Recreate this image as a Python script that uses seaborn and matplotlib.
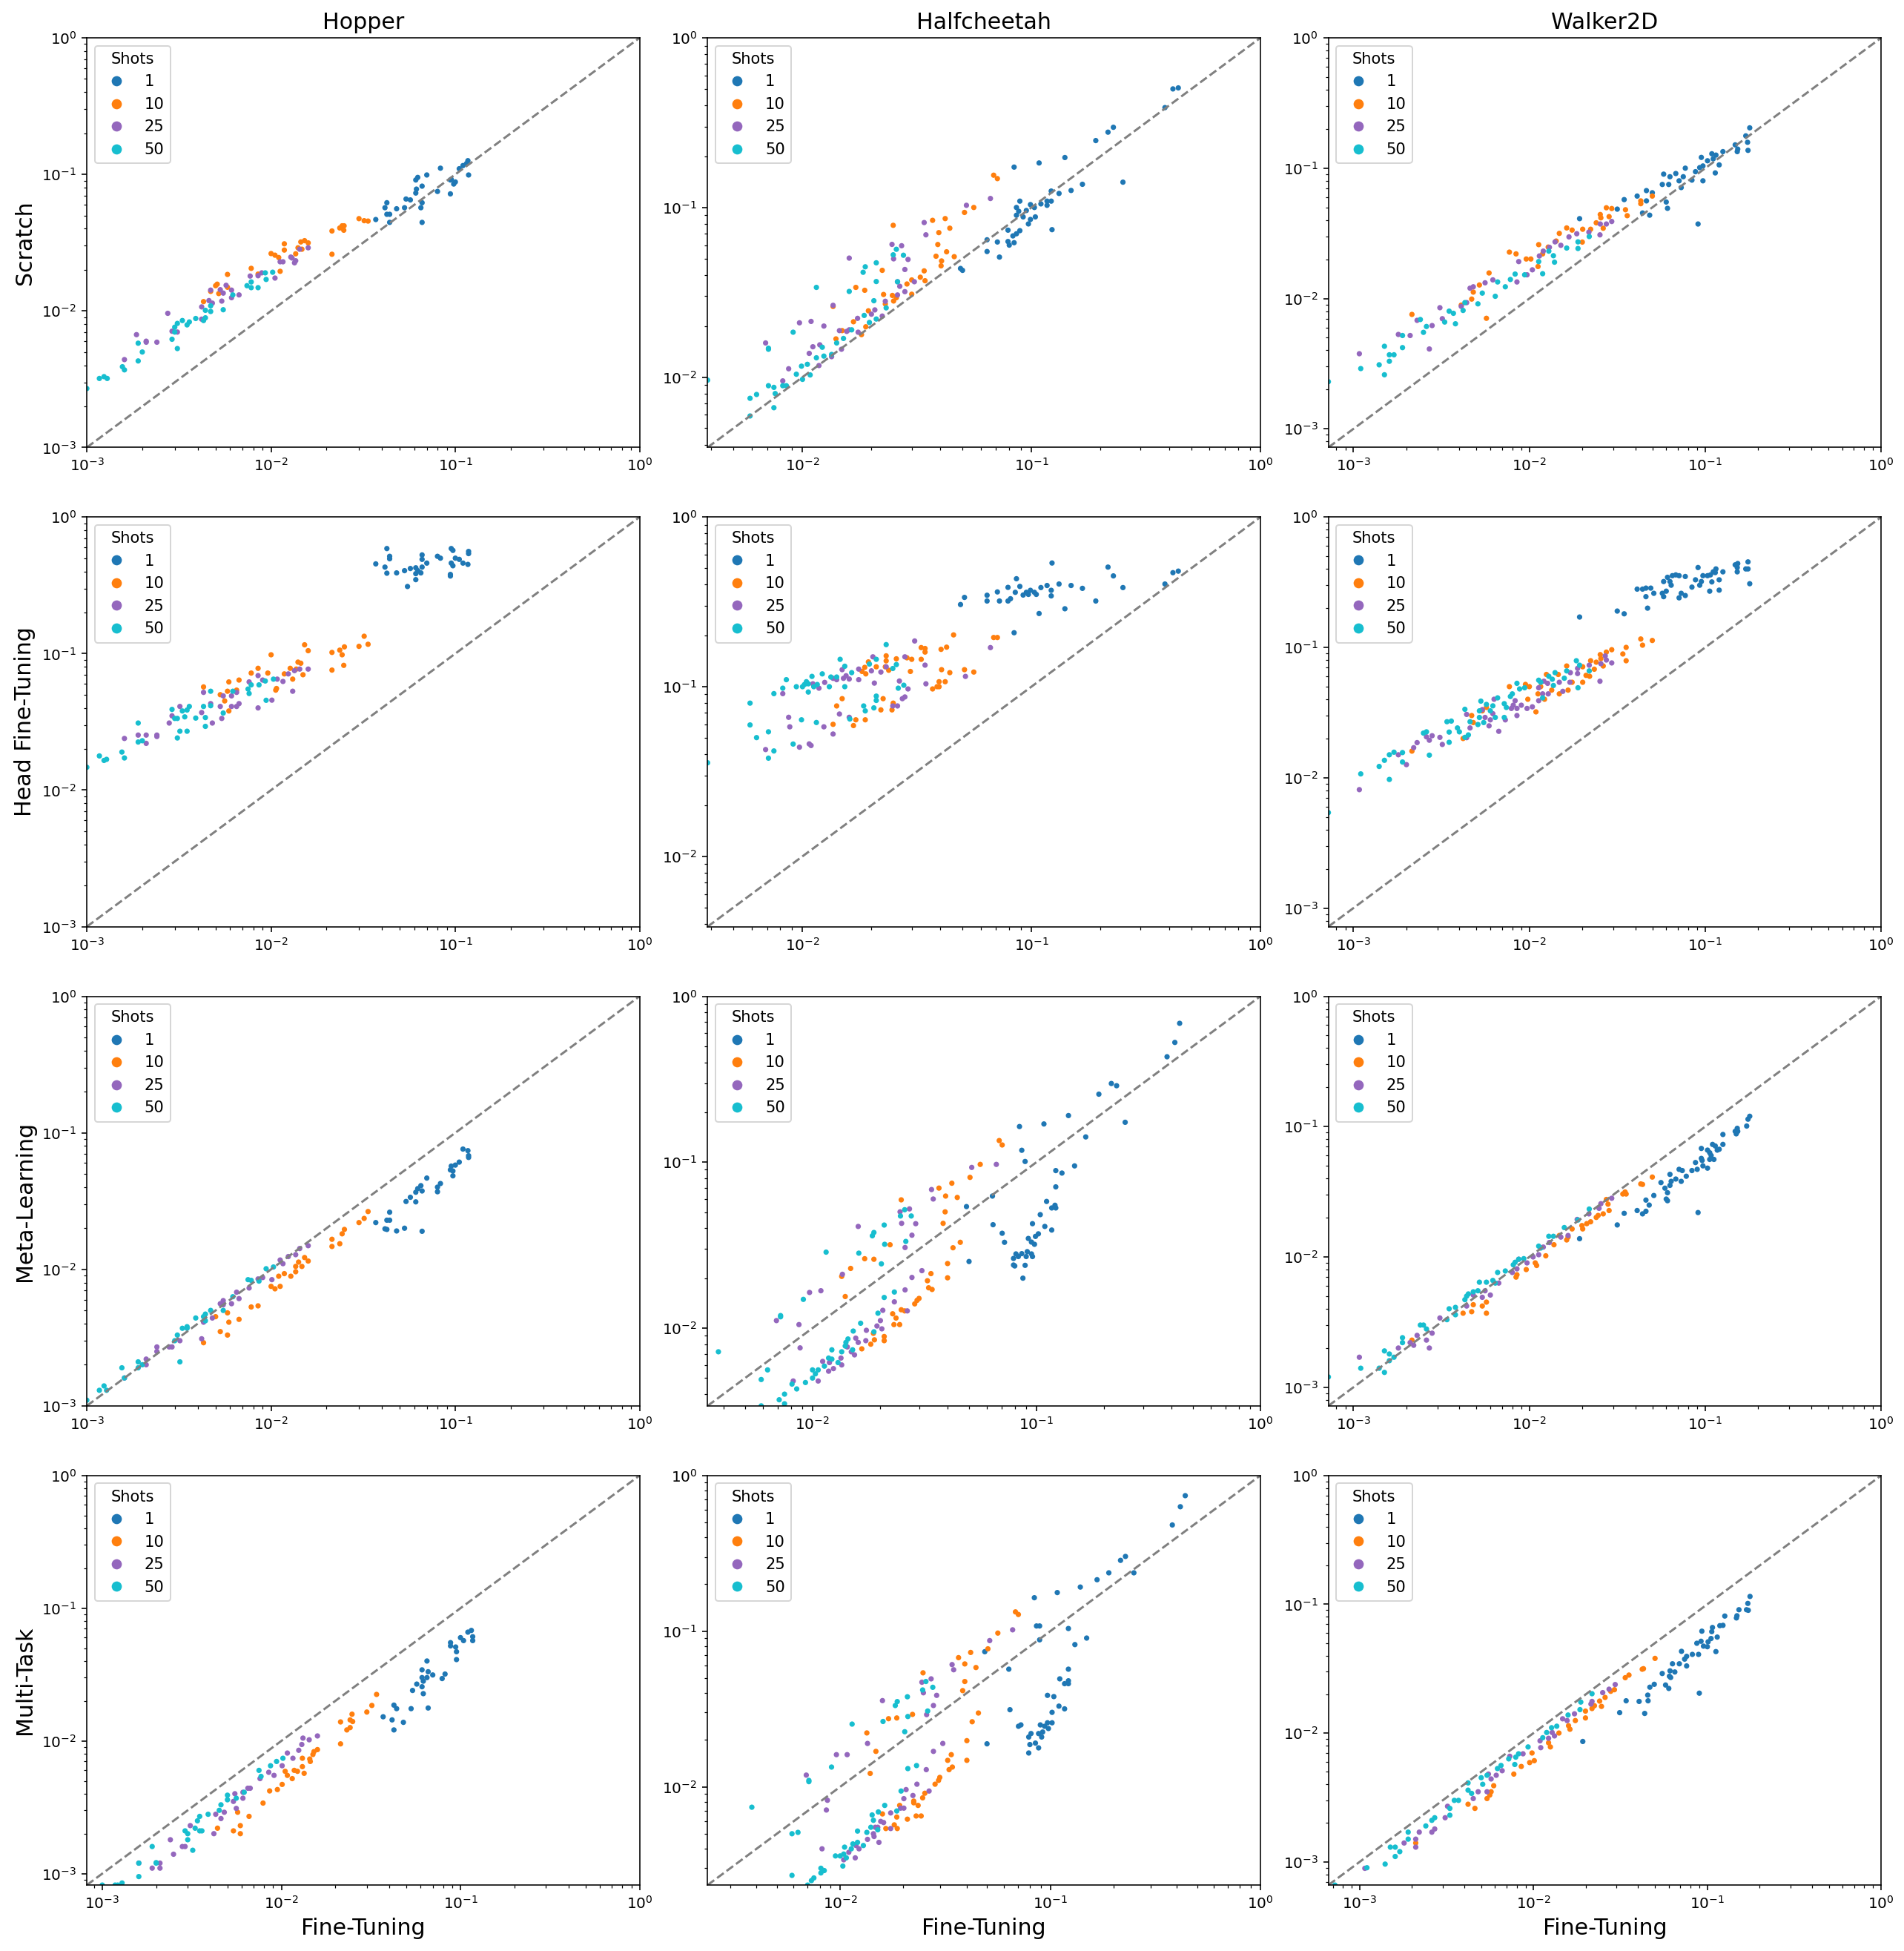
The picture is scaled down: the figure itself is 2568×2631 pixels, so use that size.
import matplotlib
matplotlib.use("Agg")
import matplotlib.pyplot as plt
import pandas as pd
import seaborn as sns

# values: (fine-tuning loss, other-method loss) per shot count
hopper_scratch = {
    "1": [(0.117, 0.126), (0.115, 0.12), (0.11, 0.116), (0.105, 0.11), (0.118, 0.099), (0.083, 0.111),
          (0.070, 0.099), (0.0625, 0.095), (0.061, 0.091), (0.095, 0.092), (0.1, 0.088), (0.098, 0.085),
          (0.094, 0.091), (0.066, 0.082), (0.0615, 0.078), (0.08, 0.075), (0.094, 0.072), (0.061, 0.073),
          (0.054, 0.066), (0.057, 0.065), (0.066, 0.062), (0.0425, 0.062), (0.0415, 0.057), (0.048, 0.056),
          (0.053, 0.057), (0.065, 0.057), (0.0425, 0.051), (0.044, 0.051), (0.037, 0.0467), (0.044, 0.0445),
          (0.066, 0.0445)],
    "10": [(0.030, 0.0474), (0.032, 0.0458), (0.0336, 0.0455), (0.0249, 0.042), (0.0243, 0.042), (0.0236, 0.0405),
           (0.0248, 0.039), (0.0214, 0.0385), (0.0214, 0.026), (0.0152, 0.0327), (0.0145, 0.032), (0.0159, 0.0315),
           (0.0118, 0.031), (0.0118, 0.0279), (0.014, 0.029), (0.0147, 0.0283), (0.0136, 0.0262), (0.0100, 0.0263),
           (0.0105, 0.0256), (0.0110, 0.0246), (0.0112, 0.0195), (0.0078, 0.0205), (0.0085, 0.0186), (0.0058, 0.0185),
           (0.0051, 0.0157), (0.005, 0.0153), (0.0058, 0.0149), (0.0047, 0.0139), (0.0052, 0.0134), (0.0043, 0.0117)],
    "25": [(0.0159, 0.029), (0.0143, 0.0283), (0.0128, 0.0248), (0.013, 0.0244), (0.0112, 0.0229), (0.0116, 0.0229),
           (0.0134, 0.0225), (0.0136, 0.0233), (0.0089, 0.019), (0.0085, 0.0181), (0.0077, 0.018), (0.0105, 0.0174),
           (0.0057, 0.0154), (0.0047, 0.0142), (0.0053, 0.0143), (0.0061, 0.0142), (0.0055, 0.0135), (0.0067, 0.0131),
           (0.0061, 0.0125), (0.0048, 0.0114), (0.0054, 0.0118), (0.0046, 0.0119), (0.0042, 0.0107), (0.00275, 0.0096),
           (0.0042, 0.0087), (0.0029, 0.0071), (0.0031, 0.0070), (0.00186, 0.0067), (0.0021, 0.006), (0.0021, 0.0059),
           (0.0024, 0.0059), (0.0016, 0.0044)],
    "50": [(0.0102, 0.0192), (0.0093, 0.019), (0.0094, 0.017), (0.0078, 0.0163), (0.0074, 0.0153), (0.0078, 0.0148),
           (0.0085, 0.0148), (0.0062, 0.0131), (0.0047, 0.0109), (0.0044, 0.0101), (0.0047, 0.0099), (0.0055, 0.0102),
           (0.0039, 0.0088), (0.0044, 0.0089), (0.0043, 0.0085), (0.0036, 0.0083), (0.0033, 0.0085), (0.0035, 0.0079),
           (0.0031, 0.0081), (0.0030, 0.0076), (0.0030, 0.0070), (0.0029, 0.0062), (0.0031, 0.0053), (0.0019, 0.0058),
           (0.0020, 0.005), (0.0019, 0.0043), (0.00156, 0.0039), (0.0016, 0.0037), (0.00117, 0.0032), (0.00124, 0.0033),
           (0.00129, 0.0032), (0.001, 0.0027)],
}

halfcheetah_scratch = {
    "1": [(0.438, 0.507), (0.415, 0.50), (0.383, 0.388), (0.228, 0.297), (0.216, 0.278), (0.191, 0.248), (0.140, 0.197),
          (0.108, 0.183), (0.084, 0.173), (0.251, 0.141), (0.167, 0.137), (0.149, 0.126), (0.132, 0.121), (0.122, 0.125),
          (0.117, 0.109), (0.122, 0.109), (0.11, 0.105), (0.117, 0.103), (0.103, 0.1), (0.099, 0.104), (0.089, 0.109),
          (0.086, 0.1), (0.095, 0.096), (0.088, 0.095), (0.092, 0.088), (0.104, 0.088), (0.099, 0.085), (0.097, 0.080),
          (0.086, 0.090), (0.123, 0.074), (0.079, 0.0735), (0.089, 0.073), (0.086, 0.070), (0.083, 0.068), (0.064, 0.0645),
          (0.071, 0.0626), (0.079, 0.063), (0.080, 0.060), (0.084, 0.062), (0.064, 0.055), (0.0725, 0.051), (0.049, 0.0437),
          (0.050, 0.0426)],
    "10": [(0.0684, 0.155), (0.071, 0.148), (0.056, 0.1), (0.051, 0.0935), (0.042, 0.086), (0.037, 0.084), (0.044, 0.0755),
           (0.0249, 0.0785), (0.0394, 0.0711), (0.039, 0.0605), (0.0426, 0.0548), (0.0383, 0.0516), (0.046, 0.0513),
           (0.0405, 0.0484), (0.0403, 0.0453), (0.0223, 0.0426), (0.034, 0.0423), (0.0327, 0.0388), (0.030, 0.0374),
           (0.0343, 0.037), (0.0286, 0.0354), (0.030, 0.0308), (0.0171, 0.0338), (0.0187, 0.0325), (0.0226, 0.0307),
           (0.0247, 0.0303), (0.0257, 0.0294), (0.025, 0.0281), (0.0136, 0.0261), (0.023, 0.027), (0.0167, 0.0212),
           (0.0194, 0.0246), (0.0189, 0.0198), (0.014, 0.0168), (0.0149, 0.0188), (0.0181, 0.0178)],
    "25": [(0.0662, 0.113), (0.052, 0.103), (0.034, 0.0815), (0.0346, 0.069), (0.0246, 0.0606), (0.0271, 0.0595),
           (0.025, 0.0498), (0.0289, 0.0494), (0.016, 0.0503), (0.028, 0.0431), (0.026, 0.0365), (0.0266, 0.0343),
           (0.0308, 0.0365), (0.028, 0.0319), (0.026, 0.0305), (0.023, 0.028), (0.0207, 0.0249), (0.02, 0.0235),
           (0.0174, 0.0222), (0.0223, 0.0229), (0.0136, 0.0265), (0.0124, 0.02), (0.0109, 0.0213), (0.0097, 0.0209),
           (0.016, 0.019), (0.0145, 0.0188), (0.0156, 0.0186), (0.0175, 0.0184), (0.0069, 0.0159), (0.0119, 0.0155),
           (0.0111, 0.0151), (0.0148, 0.0146), (0.0134, 0.0132), (0.0107, 0.0138), (0.0118, 0.0117), (0.0087, 0.0112),
           (0.0082, 0.0095)],
    "50": [(0.0257, 0.0567), (0.0249, 0.0526), (0.0276, 0.0523), (0.021, 0.0472), (0.0188, 0.0447), (0.0184, 0.0415),
           (0.021, 0.0366), (0.026, 0.0365), (0.0115, 0.0338), (0.016, 0.032), (0.0205, 0.0282), (0.0232, 0.0256),
           (0.0186, 0.0231), (0.0196, 0.021), (0.021, 0.022), (0.0164, 0.019), (0.0151, 0.0169), (0.0141, 0.0159),
           (0.0122, 0.015), (0.0091, 0.0184), (0.0071, 0.0146), (0.0071, 0.0148), (0.0134, 0.0136), (0.0115, 0.013),
           (0.0124, 0.0133), (0.0105, 0.0119), (0.0099, 0.0116), (0.0108, 0.0103), (0.0094, 0.0104), (0.0100, 0.0097),
           (0.00385, 0.0096), (0.0071, 0.0089), (0.0075, 0.0087), (0.0082, 0.0089), (0.0085, 0.0089), (0.0076, 0.0080),
           (0.0063, 0.0079), (0.0059, 0.0075), (0.0075, 0.0066), (0.0059, 0.0059)],
}

walker_scratch = {
    "1": [(0.179, 0.204), (0.17, 0.177), (0.174, 0.158), (0.175, 0.137), (0.148, 0.151), (0.153, 0.14), (0.152, 0.134),
          (0.126, 0.134), (0.115, 0.126), (0.109, 0.129), (0.095, 0.121), (0.111, 0.118), (0.103, 0.114), (0.12, 0.106),
          (0.114, 0.092), (0.097, 0.104), (0.093, 0.101), (0.088, 0.094), (0.097, 0.08), (0.077, 0.1), (0.068, 0.091),
          (0.058, 0.09), (0.063, 0.086), (0.075, 0.086), (0.071, 0.080), (0.084, 0.081), (0.073, 0.071), (0.062, 0.075),
          (0.057, 0.075), (0.0463, 0.0673), (0.041, 0.0611), (0.050, 0.0648), (0.0463, 0.0561), (0.060, 0.055),
          (0.061, 0.0492), (0.0346, 0.0574), (0.044, 0.0453), (0.0483, 0.0436), (0.0316, 0.0485), (0.0193, 0.041),
          (0.091, 0.0373)],
    "10": [(0.050, 0.0611), (0.043, 0.0561), (0.043, 0.0534), (0.0352, 0.048), (0.036, 0.0432), (0.0294, 0.049),
           (0.0274, 0.0497), (0.0284, 0.0425), (0.0253, 0.0441), (0.0255, 0.0416), (0.024, 0.0381), (0.0201, 0.034),
           (0.0223, 0.034), (0.0263, 0.0346), (0.0163, 0.0348), (0.0148, 0.0316), (0.0175, 0.0335), (0.02, 0.0271),
           (0.0142, 0.0276), (0.0113, 0.0259), (0.0128, 0.0248), (0.0119, 0.022), (0.0102, 0.0201), (0.0096, 0.0201),
           (0.0112, 0.0176), (0.0077, 0.0227), (0.0084, 0.022), (0.0059, 0.0157), (0.0052, 0.0127), (0.0047, 0.0099),
           (0.0048, 0.0112), (0.0041, 0.0089), (0.00215, 0.00755), (0.0057, 0.00705)],
    "25": [(0.0294, 0.039), (0.0274, 0.0373), (0.0253, 0.0373), (0.0252, 0.0308), (0.0218, 0.0323), (0.0186, 0.0314),
           (0.0168, 0.0297), (0.0151, 0.0256), (0.014, 0.0272), (0.013, 0.0247), (0.012, 0.0231), (0.0114, 0.0212),
           (0.0104, 0.0166), (0.0097, 0.0152), (0.0087, 0.0192), (0.0085, 0.0134), (0.0062, 0.0139), (0.0056, 0.0132),
           (0.0048, 0.0123), (0.0046, 0.012), (0.0044, 0.0093), (0.0041, 0.0087), (0.0031, 0.0085), (0.0032, 0.007),
           (0.0028, 0.0062), (0.0023, 0.0068), (0.0018, 0.0053), (0.0021, 0.0052), (0.0027, 0.0041), (0.00108, 0.00377)],
    "50": [(0.0189, 0.0272), (0.0189, 0.0242), (0.0219, 0.0299), (0.0163, 0.0244), (0.0137, 0.0213), (0.0129, 0.0231),
           (0.0119, 0.0155), (0.0139, 0.019), (0.0113, 0.0192), (0.0094, 0.0152), (0.0083, 0.0154), (0.0078, 0.014),
           (0.0073, 0.0123), (0.0066, 0.0134), (0.0064, 0.0104), (0.0051, 0.0091), (0.0054, 0.011), (0.0043, 0.0093),
           (0.0042, 0.0081), (0.0035, 0.008), (0.0037, 0.0077), (0.0033, 0.0066), (0.0038, 0.0064), (0.0024, 0.0069),
           (0.0026, 0.0061), (0.0025, 0.0055), (0.0019, 0.0052), (0.0019, 0.0042), (0.0015, 0.0043), (0.0016, 0.0037),
           (0.0016, 0.0033), (0.0017, 0.0037), (0.0014, 0.0031), (0.0015, 0.0026), (0.0011, 0.0029), (0.00072, 0.0023)],
}

hopper_head = {
    "1": [(0.0425, 0.588), (0.044, 0.516), (0.044, 0.495), (0.037, 0.454), (0.0415, 0.43), (0.0425, 0.388), (0.048, 0.39),
          (0.053, 0.405), (0.055, 0.31), (0.057, 0.42), (0.061, 0.425), (0.061, 0.385), (0.061, 0.348), (0.0625, 0.405),
          (0.065, 0.39), (0.066, 0.528), (0.066, 0.49), (0.066, 0.43), (0.07, 0.46), (0.08, 0.516), (0.083, 0.5),
          (0.094, 0.38), (0.094, 0.37), (0.095, 0.588), (0.097, 0.57), (0.095, 0.46), (0.097, 0.44), (0.1, 0.5),
          (0.105, 0.49), (0.11, 0.46), (0.117, 0.45), (0.118, 0.56), (0.118, 0.54)],
    "10": [(0.032, 0.134), (0.0336, 0.117), (0.03, 0.113), (0.025, 0.112), (0.0236, 0.106), (0.0243, 0.098),
           (0.0214, 0.102), (0.0214, 0.0757), (0.0248, 0.082), (0.0152, 0.116), (0.0159, 0.105), (0.0100, 0.098),
           (0.0145, 0.085), (0.014, 0.0866), (0.0137, 0.077), (0.0149, 0.070), (0.0131, 0.065), (0.0118, 0.071),
           (0.0127, 0.078), (0.0096, 0.072), (0.0085, 0.078), (0.0078, 0.072), (0.0067, 0.064), (0.0059, 0.062),
           (0.0058, 0.053), (0.0065, 0.054), (0.0107, 0.0555), (0.0106, 0.054), (0.0043, 0.057), (0.0053, 0.050),
           (0.0056, 0.045), (0.0059, 0.038)],
    "25": [(0.0159, 0.077), (0.0143, 0.077), (0.0134, 0.075), (0.0124, 0.071), (0.0116, 0.0625), (0.0108, 0.065),
           (0.009, 0.064), (0.0085, 0.069), (0.0076, 0.062), (0.0131, 0.053), (0.0101, 0.0456), (0.0085, 0.040),
           (0.0065, 0.052), (0.0061, 0.049), (0.0055, 0.049), (0.0067, 0.043), (0.0065, 0.041), (0.0061, 0.041),
           (0.0053, 0.041), (0.0047, 0.043), (0.0043, 0.052), (0.0042, 0.037), (0.0054, 0.0335), (0.0048, 0.031),
           (0.0032, 0.041), (0.0029, 0.035), (0.0028, 0.031), (0.0024, 0.0253), (0.0024, 0.0247), (0.0021, 0.0253),
           (0.0019, 0.0253), (0.0021, 0.022), (0.0016, 0.0239)],
    "50": [(0.0103, 0.065), (0.0093, 0.063), (0.0086, 0.059), (0.0078, 0.059), (0.0076, 0.051), (0.0075, 0.055),
           (0.0094, 0.0455), (0.0062, 0.053), (0.0047, 0.053), (0.0047, 0.0415), (0.0043, 0.041), (0.0055, 0.0367),
           (0.0044, 0.034), (0.0039, 0.0337), (0.0044, 0.0293), (0.0036, 0.041), (0.0035, 0.0386), (0.0033, 0.038),
           (0.0034, 0.0344), (0.0031, 0.0335), (0.003, 0.0335), (0.0029, 0.039), (0.0035, 0.027), (0.0032, 0.027),
           (0.0031, 0.0241), (0.0019, 0.031), (0.0020, 0.023), (0.0019, 0.0225), (0.00155, 0.019), (0.0016, 0.0172),
           (0.00117, 0.0178), (0.00124, 0.0165), (0.00128, 0.0168), (0.001, 0.0147)],
}

halfcheetah_head = {
    "1": [(0.123, 0.536), (0.216, 0.507), (0.228, 0.45), (0.415, 0.47), (0.438, 0.48), (0.383, 0.403), (0.251, 0.384),
          (0.167, 0.38), (0.149, 0.395), (0.132, 0.403), (0.117, 0.395), (0.122, 0.37), (0.122, 0.343), (0.11, 0.384),
          (0.086, 0.433), (0.079, 0.385), (0.089, 0.39), (0.071, 0.362), (0.064, 0.346), (0.051, 0.336), (0.049, 0.305),
          (0.064, 0.32), (0.0725, 0.32), (0.079, 0.32), (0.081, 0.33), (0.085, 0.36), (0.092, 0.347), (0.097, 0.35),
          (0.099, 0.37), (0.103, 0.36), (0.108, 0.27), (0.140, 0.288), (0.191, 0.32), (0.084, 0.208), (0.105, 0.35),
          (0.095, 0.36)],
    "10": [(0.0457, 0.202), (0.0684, 0.195), (0.071, 0.195), (0.0426, 0.171), (0.0403, 0.166), (0.033, 0.17),
           (0.0343, 0.168), (0.0343, 0.16), (0.0286, 0.148), (0.030, 0.145), (0.033, 0.145), (0.0232, 0.152),
           (0.0257, 0.146), (0.0232, 0.142), (0.021, 0.131), (0.0194, 0.14), (0.0187, 0.13), (0.0182, 0.123),
           (0.0189, 0.119), (0.0238, 0.125), (0.023, 0.131), (0.0296, 0.123), (0.0405, 0.126), (0.044, 0.121),
           (0.051, 0.126), (0.056, 0.122), (0.042, 0.107), (0.0395, 0.107), (0.0387, 0.1), (0.0395, 0.1), (0.037, 0.097),
           (0.0149, 0.085), (0.0141, 0.077), (0.0225, 0.085), (0.0249, 0.08), (0.022, 0.073), (0.0246, 0.073),
           (0.0136, 0.060), (0.0167, 0.059), (0.0171, 0.0638), (0.0188, 0.0638)],
    "25": [(0.0309, 0.186), (0.0662, 0.17), (0.0203, 0.15), (0.028, 0.15), (0.0343, 0.134), (0.0232, 0.131),
           (0.0200, 0.124), (0.022, 0.122), (0.0176, 0.127), (0.0149, 0.126), (0.0155, 0.116), (0.016, 0.111),
           (0.0176, 0.11), (0.0151, 0.112), (0.0141, 0.11), (0.0136, 0.112), (0.0125, 0.106), (0.0111, 0.104),
           (0.0118, 0.098), (0.0206, 0.105), (0.0265, 0.108), (0.0289, 0.097), (0.0346, 0.104), (0.0515, 0.115),
           (0.028, 0.087), (0.0273, 0.085), (0.026, 0.077), (0.0248, 0.077), (0.0145, 0.069), (0.016, 0.066),
           (0.0087, 0.066), (0.0088, 0.058), (0.0124, 0.058), (0.0136, 0.0526), (0.0082, 0.091), (0.0097, 0.044),
           (0.0107, 0.046), (0.0109, 0.045), (0.0069, 0.0426)],
    "50": [(0.0232, 0.177), (0.0146, 0.145), (0.0153, 0.132), (0.0196, 0.136), (0.021, 0.145), (0.0257, 0.135),
           (0.0248, 0.128), (0.0164, 0.121), (0.0122, 0.119), (0.0110, 0.115), (0.0133, 0.114), (0.0141, 0.114),
           (0.0085, 0.11), (0.0104, 0.107), (0.0106, 0.104), (0.0102, 0.103), (0.0100, 0.1), (0.0094, 0.1),
           (0.0112, 0.1), (0.0116, 0.103), (0.0131, 0.1), (0.0153, 0.1), (0.0106, 0.093), (0.0082, 0.098),
           (0.0075, 0.091), (0.0262, 0.098), (0.0277, 0.102), (0.021, 0.088), (0.021, 0.083), (0.0185, 0.077),
           (0.0188, 0.072), (0.0205, 0.075), (0.0059, 0.08), (0.0099, 0.0638), (0.0115, 0.0615), (0.0161, 0.0645),
           (0.0059, 0.0595), (0.0071, 0.0542), (0.0063, 0.0501), (0.0091, 0.0459), (0.0075, 0.0418), (0.0071, 0.0379),
           (0.00385, 0.0356)],
}

walker_head = {
    "1": [(0.175, 0.453), (0.153, 0.44), (0.148, 0.43), (0.152, 0.41), (0.17, 0.40), (0.175, 0.40), (0.152, 0.38),
          (0.179, 0.308), (0.126, 0.38), (0.115, 0.40), (0.114, 0.375), (0.111, 0.38), (0.107, 0.36), (0.103, 0.355),
          (0.109, 0.318), (0.12, 0.33), (0.097, 0.355), (0.095, 0.32), (0.091, 0.41), (0.093, 0.30), (0.088, 0.33),
          (0.084, 0.29), (0.12, 0.275), (0.106, 0.27), (0.077, 0.35), (0.071, 0.355), (0.068, 0.36), (0.065, 0.355),
          (0.061, 0.345), (0.063, 0.32), (0.058, 0.32), (0.064, 0.30), (0.06, 0.27), (0.057, 0.26), (0.058, 0.245),
          (0.071, 0.24), (0.073, 0.26), (0.077, 0.25), (0.051, 0.26), (0.049, 0.285), (0.046, 0.245), (0.047, 0.20),
          (0.041, 0.28), (0.044, 0.28), (0.046, 0.285), (0.0346, 0.181), (0.0316, 0.19), (0.0193, 0.171)],
    "10": [(0.05, 0.113), (0.043, 0.116), (0.044, 0.104), (0.0355, 0.1), (0.034, 0.089), (0.0355, 0.079),
           (0.0294, 0.096), (0.0274, 0.092), (0.0253, 0.088), (0.0255, 0.082), (0.024, 0.077), (0.0263, 0.072),
           (0.0223, 0.079), (0.0234, 0.068), (0.0201, 0.071), (0.021, 0.061), (0.022, 0.060), (0.0201, 0.054),
           (0.0163, 0.072), (0.0175, 0.054), (0.0166, 0.047), (0.0148, 0.044), (0.0134, 0.047), (0.0146, 0.062),
           (0.0125, 0.062), (0.0116, 0.050), (0.0112, 0.044), (0.0122, 0.040), (0.0109, 0.032), (0.0095, 0.052),
           (0.0100, 0.050), (0.0077, 0.050), (0.0098, 0.040), (0.0057, 0.0346), (0.0054, 0.0326), (0.0047, 0.030),
           (0.0048, 0.0265), (0.0042, 0.020), (0.00215, 0.016)],
    "25": [(0.0294, 0.076), (0.027, 0.086), (0.0274, 0.08), (0.0255, 0.075), (0.0252, 0.055), (0.0219, 0.073),
           (0.0188, 0.069), (0.0188, 0.063), (0.0171, 0.064), (0.017, 0.054), (0.0155, 0.046), (0.0148, 0.054),
           (0.0127, 0.053), (0.0121, 0.055), (0.0113, 0.049), (0.0119, 0.044), (0.0128, 0.044), (0.0113, 0.039),
           (0.0104, 0.035), (0.0097, 0.034), (0.0090, 0.036), (0.0085, 0.034), (0.0085, 0.030), (0.0081, 0.036),
           (0.0079, 0.034), (0.0083, 0.039), (0.0073, 0.0278), (0.0067, 0.0227), (0.0063, 0.040), (0.0062, 0.031),
           (0.006, 0.0278), (0.0059, 0.025), (0.0056, 0.029), (0.0054, 0.0333), (0.0046, 0.0241), (0.0044, 0.0306),
           (0.0044, 0.0203), (0.0032, 0.018), (0.0031, 0.0204), (0.0028, 0.021), (0.0027, 0.0194), (0.0026, 0.0206),
           (0.0023, 0.0186), (0.0022, 0.017), (0.0018, 0.015), (0.0020, 0.0126), (0.00108, 0.0081)],
    "50": [(0.0185, 0.079), (0.0193, 0.073), (0.0189, 0.049), (0.0219, 0.066), (0.0163, 0.066), (0.0158, 0.058),
           (0.0140, 0.064), (0.0135, 0.057), (0.0129, 0.060), (0.0113, 0.056), (0.0116, 0.054), (0.0137, 0.051),
           (0.0119, 0.041), (0.0094, 0.049), (0.0088, 0.048), (0.0085, 0.053), (0.0080, 0.044), (0.0078, 0.042),
           (0.0066, 0.041), (0.0072, 0.037), (0.0074, 0.0346), (0.0072, 0.029), (0.0064, 0.029), (0.0062, 0.0356),
           (0.006, 0.0326), (0.0057, 0.0365), (0.0053, 0.0387), (0.0052, 0.0326), (0.0052, 0.029), (0.0055, 0.0265),
           (0.0051, 0.0256), (0.0046, 0.0269), (0.0043, 0.0335), (0.0045, 0.0213), (0.0043, 0.0204), (0.0040, 0.0225),
           (0.0039, 0.0241), (0.0036, 0.0272), (0.0034, 0.0269), (0.0035, 0.0224), (0.0035, 0.0187), (0.0026, 0.0225),
           (0.0025, 0.022), (0.0027, 0.0149), (0.0019, 0.0156), (0.0019, 0.0132), (0.0017, 0.0157), (0.0016, 0.015),
           (0.0015, 0.0136), (0.0014, 0.0122), (0.0016, 0.0097), (0.0011, 0.0107), (0.00072, 0.0054)],
}

hopper_meta = {
    "1": [(0.11, 0.076), (0.117, 0.074), (0.118, 0.068), (0.118, 0.066), (0.105, 0.061), (0.1, 0.058), (0.095, 0.057),
          (0.097, 0.0525), (0.097, 0.0484), (0.094, 0.0535), (0.07, 0.0466), (0.083, 0.0425), (0.08, 0.040),
          (0.08, 0.037), (0.065, 0.041), (0.0625, 0.039), (0.066, 0.0375), (0.061, 0.0367), (0.057, 0.0337),
          (0.054, 0.0314), (0.061, 0.0312), (0.044, 0.0262), (0.0425, 0.0229), (0.044, 0.0229), (0.037, 0.022),
          (0.0415, 0.0198), (0.0425, 0.0196), (0.048, 0.0191), (0.053, 0.02), (0.066, 0.019)],
    "10": [(0.0336, 0.0265), (0.032, 0.0236), (0.03, 0.022), (0.025, 0.0196), (0.0243, 0.0182), (0.0214, 0.0166),
           (0.0214, 0.0147), (0.0236, 0.0154), (0.0159, 0.0115), (0.0152, 0.0122), (0.0141, 0.0113), (0.0147, 0.0105),
           (0.0136, 0.0105), (0.0136, 0.0096), (0.0128, 0.0089), (0.0118, 0.0093), (0.011, 0.0089), (0.01, 0.0075),
           (0.0105, 0.0072), (0.0112, 0.0075), (0.0078, 0.0053), (0.0085, 0.0054), (0.0058, 0.0048), (0.0067, 0.0043),
           (0.005, 0.0045), (0.0059, 0.0041), (0.0053, 0.0035), (0.0058, 0.0033), (0.0043, 0.0029)],
    "25": [(0.0159, 0.0149), (0.0143, 0.0142), (0.0136, 0.0128), (0.0124, 0.0124), (0.0116, 0.011), (0.0112, 0.0117),
           (0.0101, 0.0084), (0.009, 0.0087), (0.0085, 0.0085), (0.0076, 0.0073), (0.0065, 0.0068), (0.0067, 0.0061),
           (0.0061, 0.0056), (0.0055, 0.0059), (0.0055, 0.0055), (0.0053, 0.0056), (0.0048, 0.0044), (0.0043, 0.0041),
           (0.0042, 0.0031), (0.0032, 0.003), (0.0029, 0.0027), (0.0028, 0.0027), (0.0024, 0.0027), (0.0024, 0.0025),
           (0.0021, 0.0022), (0.0021, 0.002), (0.0016, 0.0016)],
    "50": [(0.0103, 0.0104), (0.0094, 0.0101), (0.0086, 0.0082), (0.0078, 0.0083), (0.0075, 0.0084), (0.0062, 0.0063),
           (0.0055, 0.005), (0.0047, 0.005), (0.0044, 0.0047), (0.0043, 0.0045), (0.0039, 0.0044), (0.0044, 0.0042),
           (0.0035, 0.0038), (0.0033, 0.0037), (0.0035, 0.0037), (0.0031, 0.0033), (0.003, 0.003), (0.0032, 0.0021),
           (0.0019, 0.0021), (0.002, 0.002), (0.0019, 0.0019), (0.00155, 0.0019), (0.0016, 0.0016), (0.00117, 0.0013),
           (0.00124, 0.0014), (0.00128, 0.0013), (0.001, 0.0011)],
}

halfcheetah_meta = {
    "1": [(0.436, 0.687), (0.415, 0.527), (0.383, 0.432), (0.216, 0.298), (0.228, 0.289), (0.19, 0.257), (0.139, 0.191),
          (0.249, 0.174), (0.108, 0.170), (0.084, 0.164), (0.166, 0.142), (0.086, 0.118), (0.089, 0.101), (0.148, 0.095),
          (0.122, 0.089), (0.130, 0.086), (0.122, 0.071), (0.0636, 0.0625), (0.0487, 0.054), (0.111, 0.058),
          (0.121, 0.055), (0.122, 0.053), (0.117, 0.053), (0.104, 0.0483), (0.096, 0.0426), (0.109, 0.041),
          (0.117, 0.039), (0.064, 0.042), (0.0703, 0.0373), (0.072, 0.0329), (0.102, 0.037), (0.099, 0.0357),
          (0.092, 0.0347), (0.095, 0.033), (0.098, 0.032), (0.091, 0.0289), (0.086, 0.0281), (0.081, 0.028),
          (0.083, 0.027), (0.079, 0.0263), (0.090, 0.027), (0.095, 0.028), (0.096, 0.027), (0.089, 0.0239),
          (0.079, 0.024), (0.080, 0.0237), (0.087, 0.02), (0.05, 0.0252)],
    "10": [(0.0682, 0.135), (0.0703, 0.127), (0.0561, 0.097), (0.0505, 0.081), (0.0419, 0.0747), (0.0367, 0.0698),
           (0.0393, 0.0625), (0.0443, 0.0613), (0.0249, 0.0593), (0.0391, 0.0502), (0.0383, 0.0428), (0.0457, 0.0329),
           (0.0424, 0.0305), (0.0222, 0.0318), (0.0171, 0.0262), (0.0188, 0.026), (0.0401, 0.0245), (0.0148, 0.0229),
           (0.0135, 0.0205), (0.0401, 0.0201), (0.0338, 0.0213), (0.0326, 0.0193), (0.033, 0.0175), (0.0342, 0.0171),
           (0.0140, 0.0155), (0.0299, 0.0151), (0.0293, 0.0147), (0.0286, 0.014), (0.0249, 0.0129), (0.0258, 0.0127),
           (0.0228, 0.0122), (0.0236, 0.0115), (0.0231, 0.0105), (0.0245, 0.0105), (0.0187, 0.0093), (0.0209, 0.0089),
           (0.0209, 0.0084), (0.0189, 0.0085), (0.0182, 0.008), (0.0166, 0.0075)],
    "25": [(0.0514, 0.093), (0.0662, 0.097), (0.034, 0.0684), (0.0346, 0.06), (0.0271, 0.0523), (0.0246, 0.0502),
           (0.025, 0.0428), (0.0289, 0.0426), (0.0278, 0.0363), (0.0259, 0.0306), (0.016, 0.041), (0.0136, 0.0211),
           (0.0109, 0.0168), (0.0097, 0.0164), (0.0308, 0.0222), (0.0278, 0.0202), (0.0259, 0.017), (0.0232, 0.0144),
           (0.0265, 0.0127), (0.0206, 0.0128), (0.0201, 0.0111), (0.0194, 0.0103), (0.0204, 0.0099), (0.0174, 0.0097),
           (0.0069, 0.0111), (0.0087, 0.0105), (0.0088, 0.0076), (0.0156, 0.0087), (0.016, 0.0082), (0.0173, 0.0084),
           (0.0143, 0.0077), (0.0149, 0.0072), (0.0154, 0.0069), (0.0134, 0.0066), (0.0135, 0.006), (0.0119, 0.0062),
           (0.0111, 0.0063), (0.0124, 0.0057), (0.0118, 0.0055), (0.0106, 0.0048), (0.0082, 0.0048)],
    "50": [(0.0258, 0.0517), (0.0247, 0.0474), (0.0276, 0.0474), (0.0209, 0.0418), (0.0188, 0.0377), (0.0185, 0.036),
           (0.0261, 0.0333), (0.021, 0.032), (0.0161, 0.0283), (0.0115, 0.0287), (0.0203, 0.0244), (0.0091, 0.0149),
           (0.0072, 0.0119), (0.0072, 0.0117), (0.0038, 0.0072), (0.0232, 0.0165), (0.0209, 0.0153), (0.0196, 0.0123),
           (0.0164, 0.0107), (0.0188, 0.0095), (0.0152, 0.0096), (0.0144, 0.0086), (0.0141, 0.0082), (0.0140, 0.0078),
           (0.0135, 0.0072), (0.0151, 0.0074), (0.0122, 0.0074), (0.0118, 0.0066), (0.0122, 0.0065), (0.013, 0.0062),
           (0.0113, 0.0059), (0.0106, 0.0056), (0.0103, 0.0053), (0.0100, 0.005), (0.0100, 0.0056), (0.0093, 0.0047),
           (0.0063, 0.0056), (0.0059, 0.0049), (0.0081, 0.0046), (0.0085, 0.0043), (0.0075, 0.004), (0.0071, 0.0037),
           (0.0075, 0.0035), (0.0059, 0.0034)],
}

walker_meta = {
    "1": [(0.179, 0.12), (0.175, 0.114), (0.172, 0.101), (0.152, 0.097), (0.153, 0.092), (0.148, 0.092), (0.15, 0.088),
          (0.126, 0.087), (0.126, 0.073), (0.11, 0.073), (0.114, 0.071), (0.12, 0.067), (0.117, 0.066), (0.103, 0.066),
          (0.095, 0.068), (0.106, 0.063), (0.108, 0.060), (0.112, 0.056), (0.106, 0.056), (0.095, 0.057),
          (0.096, 0.055), (0.088, 0.053), (0.097, 0.050), (0.103, 0.048), (0.090, 0.047), (0.084, 0.046),
          (0.071, 0.047), (0.074, 0.046), (0.063, 0.043), (0.078, 0.0416), (0.073, 0.038), (0.068, 0.0396),
          (0.064, 0.038), (0.063, 0.0354), (0.056, 0.0372), (0.059, 0.0337), (0.06, 0.0278), (0.061, 0.027),
          (0.061, 0.0311), (0.051, 0.0296), (0.046, 0.0273), (0.048, 0.025), (0.046, 0.0224), (0.041, 0.0227),
          (0.044, 0.0214), (0.0346, 0.0216), (0.0316, 0.0176), (0.0193, 0.0138), (0.091, 0.0219)],
    "10": [(0.05, 0.041), (0.043, 0.0363), (0.044, 0.036), (0.034, 0.0304), (0.0355, 0.0304), (0.035, 0.0315),
           (0.0274, 0.0276), (0.0280, 0.0254), (0.0284, 0.0227), (0.0263, 0.0214), (0.024, 0.0201), (0.0246, 0.0208),
           (0.0223, 0.0186), (0.0212, 0.018), (0.0201, 0.0164), (0.0199, 0.0174), (0.0175, 0.0164), (0.0163, 0.0135),
           (0.0166, 0.0142), (0.0148, 0.0146), (0.0138, 0.0124), (0.0124, 0.0102), (0.0110, 0.0086), (0.0108, 0.009),
           (0.0096, 0.008), (0.0084, 0.007), (0.0085, 0.0073), (0.0057, 0.0045), (0.0054, 0.0042), (0.0047, 0.0038),
           (0.0042, 0.0037), (0.0057, 0.0037), (0.00215, 0.0023), (0.0048, 0.0043)],
    "25": [(0.0294, 0.0282), (0.0255, 0.0256), (0.0249, 0.0236), (0.0218, 0.0214), (0.0187, 0.0194), (0.0166, 0.0146),
           (0.0151, 0.0142), (0.013, 0.0129), (0.012, 0.0119), (0.0113, 0.0104), (0.0105, 0.01), (0.0097, 0.009),
           (0.0087, 0.0096), (0.0085, 0.0081), (0.008, 0.0076), (0.0067, 0.0063), (0.0060, 0.0051), (0.0056, 0.0055),
           (0.0054, 0.0049), (0.0048, 0.0051), (0.0044, 0.0042), (0.0031, 0.0034), (0.0028, 0.0026), (0.0026, 0.0023),
           (0.0027, 0.0020), (0.0023, 0.0025), (0.0022, 0.0021), (0.0021, 0.0022), (0.0018, 0.0020), (0.00108, 0.0017)],
    "50": [(0.0219, 0.0233), (0.0189, 0.0192), (0.0158, 0.0168), (0.0129, 0.0144), (0.0137, 0.0144), (0.0113, 0.0121),
           (0.0116, 0.0117), (0.0093, 0.0097), (0.0087, 0.0096), (0.0083, 0.0091), (0.0081, 0.0087), (0.0073, 0.0078),
           (0.0066, 0.0076), (0.0062, 0.0066), (0.0064, 0.0063), (0.0057, 0.0064), (0.0052, 0.0064), (0.0051, 0.0055),
           (0.0048, 0.0054), (0.0045, 0.0052), (0.0043, 0.0047), (0.0044, 0.005), (0.0038, 0.0041), (0.0035, 0.004),
           (0.0034, 0.0033), (0.0038, 0.0036), (0.0024, 0.0030), (0.0025, 0.003), (0.0026, 0.0028), (0.0019, 0.0024),
           (0.0019, 0.0022), (0.0015, 0.0019), (0.0016, 0.0018), (0.0016, 0.0016), (0.0017, 0.0017), (0.0014, 0.0014),
           (0.0015, 0.0013), (0.0011, 0.0014), (0.00072, 0.0012)],
}

hopper_multi = {
    "1": [(0.115, 0.068), (0.11, 0.066), (0.117, 0.061), (0.117, 0.057), (0.1, 0.060), (0.104, 0.057), (0.088, 0.055),
          (0.088, 0.052), (0.094, 0.051), (0.095, 0.047), (0.095, 0.041), (0.065, 0.040), (0.061, 0.0343),
          (0.066, 0.0332), (0.07, 0.0314), (0.082, 0.0319), (0.079, 0.0295), (0.061, 0.030), (0.065, 0.030),
          (0.057, 0.0268), (0.061, 0.0256), (0.062, 0.0282), (0.054, 0.024), (0.062, 0.0227), (0.0425, 0.0186),
          (0.044, 0.0175), (0.053, 0.0175), (0.066, 0.0177), (0.037, 0.0152), (0.0415, 0.0144), (0.048, 0.0138),
          (0.0425, 0.0121)],
    "10": [(0.034, 0.0224), (0.032, 0.0185), (0.030, 0.0165), (0.0248, 0.0159), (0.0242, 0.0144), (0.0250, 0.014),
           (0.0214, 0.0139), (0.0232, 0.0121), (0.0242, 0.0126), (0.0214, 0.0095), (0.0159, 0.0086), (0.0152, 0.0083),
           (0.0150, 0.0079), (0.0144, 0.0073), (0.0145, 0.0070), (0.0131, 0.0074), (0.0131, 0.0064), (0.0134, 0.0057),
           (0.0123, 0.0059), (0.0118, 0.006), (0.0115, 0.0052), (0.0105, 0.0059), (0.0108, 0.0055), (0.0101, 0.0047),
           (0.0095, 0.0043), (0.0086, 0.0042), (0.0079, 0.0034), (0.0066, 0.0027), (0.0057, 0.0029), (0.0059, 0.0023),
           (0.0059, 0.002), (0.0054, 0.0021), (0.0044, 0.0022)],
    "25": [(0.0159, 0.0109), (0.0143, 0.0102), (0.0132, 0.0105), (0.0130, 0.0094), (0.0125, 0.0085), (0.0116, 0.0074),
           (0.0108, 0.0081), (0.0101, 0.0065), (0.0091, 0.0055), (0.0085, 0.0058), (0.0076, 0.0052), (0.0067, 0.0044),
           (0.0065, 0.0044), (0.0061, 0.0041), (0.0061, 0.0037), (0.0055, 0.004), (0.0054, 0.0035), (0.0056, 0.0031),
           (0.0048, 0.0029), (0.0046, 0.0026), (0.0043, 0.0028), (0.0042, 0.0020), (0.0031, 0.0023), (0.0024, 0.0018),
           (0.0025, 0.0014), (0.0028, 0.0016), (0.0029, 0.0016), (0.0021, 0.0012), (0.0021, 0.0011), (0.0019, 0.0011),
           (0.0016, 0.0012)],
    "50": [(0.0102, 0.0074), (0.0094, 0.007), (0.0087, 0.0065), (0.0075, 0.006), (0.0077, 0.0054), (0.0062, 0.0041),
           (0.0056, 0.0037), (0.0050, 0.0039), (0.0050, 0.0036), (0.0046, 0.0033), (0.0045, 0.003), (0.0039, 0.0028),
           (0.0035, 0.0027), (0.0034, 0.0025), (0.0036, 0.0021), (0.0035, 0.0021), (0.0033, 0.0022), (0.0029, 0.0021),
           (0.003, 0.002), (0.0030, 0.0018), (0.0032, 0.0015), (0.0019, 0.0016), (0.0020, 0.0012), (0.0020, 0.00121),
           (0.0016, 0.0012), (0.0016, 0.00095), (0.00118, 0.00082), (0.00122, 0.00082), (0.00129, 0.00085),
           (0.001, 0.00082)],
}

halfcheetah_multi = {
    "1": [(0.439, 0.742), (0.416, 0.63), (0.381, 0.481), (0.228, 0.302), (0.216, 0.285), (0.25, 0.237), (0.19, 0.237),
          (0.167, 0.214), (0.139, 0.192), (0.108, 0.177), (0.084, 0.164), (0.086, 0.108), (0.089, 0.108),
          (0.122, 0.104), (0.149, 0.0903), (0.089, 0.088), (0.131, 0.082), (0.0488, 0.0738), (0.0635, 0.057),
          (0.122, 0.057), (0.111, 0.0494), (0.117, 0.046), (0.122, 0.046), (0.122, 0.048), (0.097, 0.0387),
          (0.104, 0.038), (0.0643, 0.0313), (0.11, 0.033), (0.117, 0.0317), (0.102, 0.0301), (0.0706, 0.0245),
          (0.0725, 0.025), (0.0897, 0.025), (0.094, 0.0245), (0.097, 0.0258), (0.102, 0.0258), (0.098, 0.0237),
          (0.092, 0.0225), (0.088, 0.022), (0.081, 0.022), (0.079, 0.0209), (0.091, 0.0209), (0.085, 0.0191),
          (0.08, 0.0187), (0.088, 0.0178), (0.079, 0.0165), (0.05, 0.0189)],
    "10": [(0.0683, 0.133), (0.0705, 0.128), (0.0563, 0.0972), (0.0505, 0.077), (0.0418, 0.073), (0.0366, 0.0676),
           (0.0392, 0.0616), (0.0443, 0.0584), (0.0248, 0.054), (0.0392, 0.0475), (0.0383, 0.0415), (0.0455, 0.0298),
           (0.0425, 0.0262), (0.0221, 0.0292), (0.017, 0.0274), (0.0186, 0.0277), (0.0401, 0.0198), (0.0134, 0.0222),
           (0.0148, 0.0169), (0.0338, 0.0161), (0.0401, 0.0148), (0.0325, 0.0148), (0.0342, 0.0134), (0.033, 0.0129),
           (0.0139, 0.0122), (0.0298, 0.0115), (0.0294, 0.011), (0.0283, 0.0104), (0.0253, 0.0091), (0.0247, 0.0085),
           (0.0224, 0.0081), (0.0235, 0.0076), (0.0224, 0.0079), (0.0192, 0.0076), (0.0159, 0.0067), (0.0186, 0.0064),
           (0.0209, 0.0062), (0.023, 0.0065), (0.0243, 0.0065), (0.0181, 0.0057), (0.0187, 0.0054), (0.0165, 0.0054)],
    "25": [(0.0662, 0.102), (0.0515, 0.087), (0.0341, 0.061), (0.0347, 0.0565), (0.0271, 0.0494), (0.0245, 0.047),
           (0.0249, 0.0402), (0.0288, 0.0387), (0.0278, 0.0333), (0.0258, 0.0291), (0.0159, 0.0358), (0.0135, 0.019),
           (0.0108, 0.0161), (0.0096, 0.0161), (0.0069, 0.0119), (0.0308, 0.019), (0.0278, 0.0169), (0.0257, 0.0129),
           (0.0232, 0.0104), (0.0265, 0.0094), (0.0206, 0.0096), (0.0201, 0.0084), (0.0222, 0.0088), (0.0194, 0.0073),
           (0.0201, 0.0073), (0.0174, 0.0068), (0.0156, 0.006), (0.0161, 0.0059), (0.0174, 0.0054), (0.0147, 0.0055),
           (0.0151, 0.0055), (0.0144, 0.005), (0.0145, 0.0048), (0.0135, 0.0046), (0.0153, 0.0044), (0.0087, 0.0082),
           (0.0086, 0.0071), (0.0082, 0.004), (0.0123, 0.004), (0.0119, 0.0042), (0.011, 0.0038), (0.0118, 0.0035),
           (0.0104, 0.0034)],
    "50": [(0.0256, 0.0475), (0.0247, 0.0419), (0.0276, 0.0436), (0.0209, 0.0379), (0.0187, 0.0353), (0.0183, 0.0333),
           (0.0261, 0.0307), (0.021, 0.0283), (0.016, 0.0263), (0.0114, 0.0253), (0.0203, 0.0226), (0.0091, 0.0134),
           (0.0071, 0.011), (0.0071, 0.0108), (0.0038, 0.0074), (0.0231, 0.0137), (0.021, 0.0131), (0.0195, 0.0094),
           (0.0163, 0.0076), (0.0186, 0.007), (0.0152, 0.0069), (0.0142, 0.0066), (0.0144, 0.0061), (0.014, 0.0055),
           (0.0151, 0.0053), (0.0121, 0.0052), (0.0134, 0.0051), (0.0129, 0.0042), (0.0121, 0.0044), (0.0115, 0.0043),
           (0.0113, 0.004), (0.0105, 0.0041), (0.0104, 0.0037), (0.0107, 0.0035), (0.0100, 0.0036), (0.0095, 0.0036),
           (0.0103, 0.0031), (0.0063, 0.0051), (0.0059, 0.005), (0.0081, 0.003), (0.0084, 0.0029), (0.0081, 0.0028),
           (0.0059, 0.0027), (0.0075, 0.0026), (0.0073, 0.0025), (0.0070, 0.00234)],
}

walker_multi = {
    "1": [(0.176, 0.115), (0.171, 0.1015), (0.172, 0.0898), (0.168, 0.0907), (0.152, 0.0907), (0.148, 0.0814),
          (0.147, 0.0783), (0.126, 0.081), (0.123, 0.0686), (0.118, 0.0682), (0.107, 0.066), (0.106, 0.0613),
          (0.093, 0.0618), (0.114, 0.0556), (0.105, 0.0542), (0.101, 0.0511), (0.100, 0.0468), (0.112, 0.0429),
          (0.092, 0.0516), (0.087, 0.0498), (0.095, 0.0473), (0.089, 0.0408), (0.082, 0.0408), (0.071, 0.0431),
          (0.076, 0.0394), (0.074, 0.0375), (0.076, 0.0332), (0.069, 0.0345), (0.063, 0.0345), (0.061, 0.0304),
          (0.055, 0.029), (0.065, 0.0298), (0.0605, 0.0276), (0.0615, 0.027), (0.0575, 0.0236), (0.06, 0.0222),
          (0.0495, 0.0239), (0.0467, 0.0227), (0.0454, 0.0197), (0.0456, 0.0178), (0.0405, 0.0176), (0.0341, 0.0178),
          (0.0436, 0.0142), (0.0313, 0.0144), (0.0192, 0.0086), (0.0899, 0.0204)],
    "10": [(0.050, 0.038), (0.0429, 0.0316), (0.0422, 0.0313), (0.0354, 0.0282), (0.0337, 0.0269), (0.0292, 0.0217),
           (0.0278, 0.0211), (0.0258, 0.0189), (0.0240, 0.0177), (0.0246, 0.0161), (0.0224, 0.0163), (0.0217, 0.0155),
           (0.0199, 0.0148), (0.0199, 0.0131), (0.0174, 0.0125), (0.0162, 0.0107), (0.0159, 0.0114), (0.0140, 0.01),
           (0.0125, 0.0078), (0.0122, 0.0084), (0.0098, 0.0070), (0.0101, 0.0061), (0.0095, 0.0059), (0.0085, 0.0055),
           (0.0077, 0.0048), (0.0059, 0.0039), (0.0057, 0.0035), (0.0054, 0.0031), (0.0056, 0.0033), (0.0042, 0.0028),
           (0.0046, 0.0026), (0.0021, 0.0014)],
    "25": [(0.0295, 0.0238), (0.0272, 0.0219), (0.025, 0.0206), (0.0217, 0.0176), (0.0214, 0.0168), (0.0172, 0.0141),
           (0.0156, 0.0125), (0.0147, 0.0129), (0.0132, 0.0095), (0.0128, 0.0101), (0.0122, 0.0091), (0.0109, 0.0087),
           (0.011, 0.0077), (0.0087, 0.0069), (0.0073, 0.0066), (0.0066, 0.0051), (0.0061, 0.0047), (0.0057, 0.0044),
           (0.0055, 0.0048), (0.0054, 0.0035), (0.0048, 0.0035), (0.0045, 0.0031), (0.0032, 0.0027), (0.0031, 0.0022),
           (0.0027, 0.0018), (0.0026, 0.0017), (0.0022, 0.0017), (0.0021, 0.0015), (0.0021, 0.0013), (0.0018, 0.0014),
           (0.00107, 0.00089)],
    "50": [(0.0217, 0.0202), (0.0187, 0.0174), (0.0185, 0.0152), (0.0158, 0.0138), (0.0136, 0.0113), (0.0127, 0.011),
           (0.0119, 0.0101), (0.0113, 0.0092), (0.0093, 0.0078), (0.0082, 0.0069), (0.0079, 0.0065), (0.0072, 0.0063),
           (0.0078, 0.0057), (0.0065, 0.0056), (0.0062, 0.0053), (0.0054, 0.0047), (0.005, 0.0045), (0.0051, 0.004),
           (0.0042, 0.0041), (0.0042, 0.0036), (0.0044, 0.0034), (0.0037, 0.003), (0.0035, 0.003), (0.0033, 0.0026),
           (0.0033, 0.0023), (0.0027, 0.0022), (0.0026, 0.0021), (0.0024, 0.0019), (0.0019, 0.0017), (0.0019, 0.0015),
           (0.0016, 0.0013), (0.0015, 0.0013), (0.0017, 0.0012), (0.0016, 0.0011), (0.0014, 0.00096), (0.0011, 0.0009),
           (0.00072, 0.00066)],
}

envs = ["Hopper", "Halfcheetah", "Walker2D"]
methods = ["Scratch", "Head Fine-Tuning", "Meta-Learning", "Multi-Task"]
shot_order = ["1", "10", "25", "50"]
palette = ["#1f77b4", "#ff7f0e", "#9467bd", "#17becf"]

grid = [
    [hopper_scratch, halfcheetah_scratch, walker_scratch],
    [hopper_head, halfcheetah_head, walker_head],
    [hopper_meta, halfcheetah_meta, walker_meta],
    [hopper_multi, halfcheetah_multi, walker_multi],
]


def to_frame(panel):
    rows = []
    for shot in shot_order:
        for ft, other in panel[shot]:
            rows.append({"Fine-Tuning": ft, "Other": other, "Shots": shot})
    return pd.DataFrame(rows)


DPI = 144
fig, axes = plt.subplots(4, 3, figsize=(2568 / DPI, 2631 / DPI), dpi=DPI)
fig.subplots_adjust(left=0.0456, right=0.988, top=0.9806, bottom=0.0338, wspace=0.123, hspace=0.17)

for i, method in enumerate(methods):
    for j, env in enumerate(envs):
        ax = axes[i, j]
        df = to_frame(grid[i][j])
        sns.scatterplot(data=df, x="Fine-Tuning", y="Other", hue="Shots", hue_order=shot_order,
                        palette=palette, s=13, linewidth=0, ax=ax)
        ax.set_xscale("log")
        ax.set_yscale("log")
        lo = min(df["Fine-Tuning"].min(), df["Other"].min())
        ax.plot([lo, 1], [lo, 1], linestyle="--", color="gray", linewidth=1.5)
        ax.set_xlim(lo, 1)
        ax.set_ylim(lo, 1)
        ax.legend(title="Shots", loc="upper left", markerscale=1.9, fontsize=10.5, title_fontsize=10.5)
        ax.set_xlabel("Fine-Tuning" if i == 3 else "", fontsize=15)
        ax.set_ylabel(method if j == 0 else "", fontsize=15)
        if i == 0:
            ax.set_title(env, fontsize=15)

fig.savefig("out.png", dpi=DPI)
